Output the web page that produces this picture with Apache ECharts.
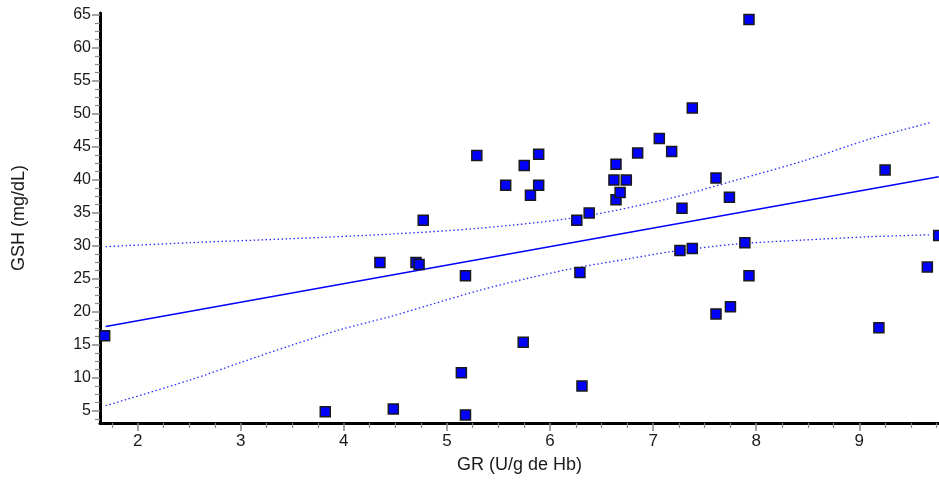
<!DOCTYPE html>
<html>
<head>
<meta charset="utf-8">
<script src="https://cdn.jsdelivr.net/npm/echarts@6/dist/echarts.min.js"></script>
<style>
html,body{margin:0;padding:0;background:#fff;}
#chart{width:939px;height:480px;}
</style>
</head>
<body>
<div id="chart"></div>
<script>
// GR (U/g de Hb) values
const grValues = [1.68, 3.82, 4.35, 4.48, 4.70, 4.73, 4.77, 5.14, 5.18, 5.18, 5.29, 5.57, 5.74, 5.75, 5.81, 5.89, 5.89, 6.26, 6.29, 6.31, 6.38, 6.62, 6.64, 6.64, 6.68, 6.74, 6.85, 7.06, 7.18, 7.26, 7.28, 7.38, 7.38, 7.61, 7.61, 7.74, 7.75, 7.89, 7.93, 7.93, 9.19, 9.25, 9.66, 9.77];
// GSH (mg/dL) values
const gshValues = [16.4, 4.9, 27.5, 5.3, 27.5, 27.2, 33.9, 10.8, 25.5, 4.4, 43.7, 39.2, 15.4, 42.2, 37.7, 43.9, 39.2, 33.9, 26.0, 8.8, 35.0, 40.0, 42.4, 37.0, 38.1, 40.0, 44.1, 46.3, 44.3, 29.3, 35.7, 50.9, 29.6, 40.3, 19.7, 37.4, 20.8, 30.5, 25.5, 64.3, 17.6, 41.5, 26.8, 31.6];

// regression line end points
const fitX = [1.69, 9.77];
const fitY = [17.8, 40.5];

// confidence band
const upperX = [1.69, 2.51, 3.48, 4.45, 5.32, 6.29, 7.16, 7.81, 8.46, 9.10, 9.69];
const upperY = [29.9, 30.5, 31.1, 31.8, 32.7, 34.4, 37.2, 40.0, 42.9, 46.2, 48.7];
const lowerX = [1.69, 2.51, 2.99, 3.48, 3.96, 4.45, 4.84, 5.32, 5.81, 6.29, 6.78, 7.16, 7.81, 8.46, 9.10, 9.69];
const lowerY = [5.8, 9.7, 12.3, 14.9, 17.3, 19.3, 21.1, 23.3, 25.2, 26.8, 28.1, 29.1, 30.3, 30.9, 31.4, 31.7];

// tick labels
const xTicks = [2, 3, 4, 5, 6, 7, 8, 9];
const yTicks = [5, 10, 15, 20, 25, 30, 35, 40, 45, 50, 55, 60, 65];
const xMinorTicks = [1.75, 2.25, 2.5, 2.75, 3.25, 3.5, 3.75, 4.25, 4.5, 4.75, 5.25, 5.5, 5.75, 6.25, 6.5, 6.75, 7.25, 7.5, 7.75, 8.25, 8.5, 8.75, 9.25, 9.5, 9.75];
const yMinorTicks = [3.75, 6.25, 7.5, 8.75, 11.25, 12.5, 13.75, 16.25, 17.5, 18.75, 21.25, 22.5, 23.75, 26.25, 27.5, 28.75, 31.25, 32.5, 33.75, 36.25, 37.5, 38.75, 41.25, 42.5, 43.75, 46.25, 47.5, 48.75, 51.25, 52.5, 53.75, 56.25, 57.5, 58.75, 61.25, 62.5, 63.75];

const X_MIN = 1.635, X_MAX = 9.773, Y_MIN = 3.18, Y_MAX = 65.3;
const FONT = 'Liberation Sans, Arial, sans-serif';

const zip = (a, b) => a.map((v, i) => [v, b[i]]);

const chart = echarts.init(document.getElementById('chart'), null, {renderer: 'canvas'});

const baseX = {
  type: 'value', min: X_MIN, max: X_MAX, position: 'bottom',
  splitLine: {show: false}
};
const baseY = {
  type: 'value', min: Y_MIN, max: Y_MAX, position: 'left',
  splitLine: {show: false}
};

chart.setOption({
  animation: false,
  backgroundColor: '#ffffff',
  grid: {left: 100, right: 0, top: 13, bottom: 57, containLabel: false},
  xAxis: [
    Object.assign({}, baseX, {
      name: 'GR (U/g de Hb)', nameLocation: 'middle', nameGap: 33,
      nameTextStyle: {fontFamily: FONT, fontSize: 18, color: '#1a1a1a'},
      axisLine: {show: true, onZero: false, lineStyle: {color: '#000', width: 3}},
      axisTick: {show: true, customValues: xTicks, length: 8, lineStyle: {color: '#888', width: 1.5}},
      axisLabel: {show: true, customValues: xTicks, margin: 10, fontFamily: FONT, fontSize: 17, color: '#1a1a1a'}
    }),
    Object.assign({}, baseX, {
      axisLine: {show: false, onZero: false},
      axisTick: {show: true, customValues: xMinorTicks, length: 5, lineStyle: {color: '#888', width: 1.2}},
      axisLabel: {show: false}
    })
  ],
  yAxis: [
    Object.assign({}, baseY, {
      name: 'GSH (mg/dL)', nameLocation: 'middle', nameGap: 72, nameRotate: 90,
      nameTextStyle: {fontFamily: FONT, fontSize: 18, color: '#1a1a1a'},
      axisLine: {show: true, onZero: false, lineStyle: {color: '#000', width: 3}},
      axisTick: {show: true, customValues: yTicks, length: 8, lineStyle: {color: '#888', width: 1.5}},
      axisLabel: {show: true, customValues: yTicks, margin: 9, fontFamily: FONT, fontSize: 16, color: '#1a1a1a'}
    }),
    Object.assign({}, baseY, {
      axisLine: {show: false, onZero: false},
      axisTick: {show: true, customValues: yMinorTicks, length: 5, lineStyle: {color: '#888', width: 1.2}},
      axisLabel: {show: false}
    })
  ],
  series: [
    {
      type: 'line', data: zip(upperX, upperY), showSymbol: false, symbol: 'none', smooth: 0.3,
      lineStyle: {color: '#2a2aff', width: 1.3, type: [1.5, 2.5]}, z: 2
    },
    {
      type: 'line', data: zip(lowerX, lowerY), showSymbol: false, symbol: 'none', smooth: 0.3,
      lineStyle: {color: '#2a2aff', width: 1.3, type: [1.5, 2.5]}, z: 2
    },
    {
      type: 'line', data: zip(fitX, fitY), showSymbol: false, symbol: 'none',
      lineStyle: {color: '#0000ff', width: 1.6}, z: 3
    },
    {
      type: 'scatter', data: zip(grValues, gshValues), symbol: 'rect', symbolSize: 10, clip: false,
      itemStyle: {color: '#0000ff', borderColor: '#1a1a1a', borderWidth: 1.5, opacity: 1}, z: 4
    }
  ]
});
</script>
</body>
</html>
